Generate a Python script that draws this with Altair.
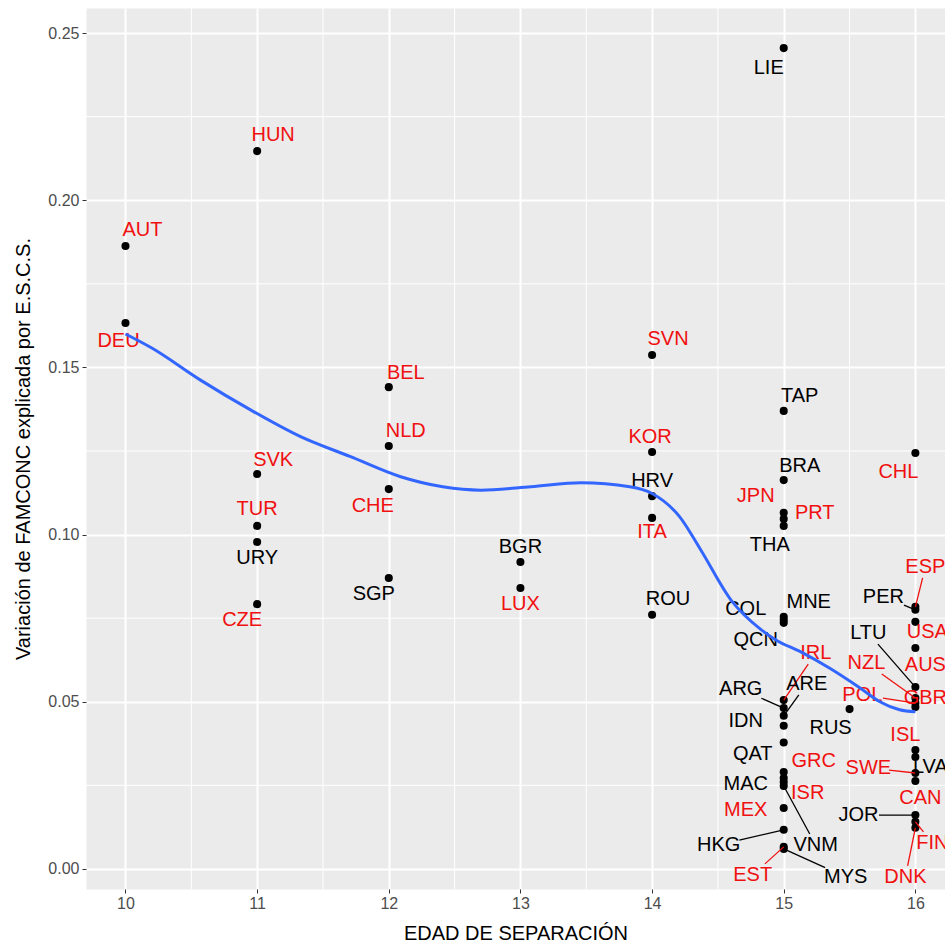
import altair as alt
import pandas as pd
import numpy as np

# ---------------- data ----------------
countries = ["AUT", "DEU", "HUN", "SVK", "TUR", "URY", "CZE", "BEL", "NLD", "CHE",
             "SGP", "BGR", "LUX", "SVN", "KOR", "HRV", "ITA", "ROU", "LIE", "TAP",
             "BRA", "JPN", "PRT", "THA", "MNE", "COL", "QCN", "IRL", "ARG", "ARE",
             "IDN", "RUS", "QAT", "GRC", "MAC", "ISR", "VNM", "MEX", "HKG", "EST",
             "MYS", "CHL", "ESP", "PER", "USA", "AUS", "LTU", "NZL", "POL", "GBR",
             "ISL", "LVA", "SWE", "CAN", "JOR", "FIN", "DNK"]
edad = [10, 10, 11, 11, 11, 11, 11, 12, 12, 12,
        12, 13, 13, 14, 14, 14, 14, 14, 15, 15,
        15, 15, 15, 15, 15, 15, 15, 15, 15, 15,
        15, 15.5, 15, 15, 15, 15, 15, 15, 15, 15,
        15, 16, 16, 16, 16, 16, 16, 16, 16, 16,
        16, 16, 16, 16, 16, 16, 16]
famconc = [0.1863, 0.1633, 0.2147, 0.1181, 0.1026, 0.0978, 0.0792, 0.1441, 0.1265, 0.1136,
           0.0870, 0.0918, 0.0840, 0.1537, 0.1247, 0.1115, 0.1050, 0.0760, 0.2455, 0.1370,
           0.1163, 0.1065, 0.1047, 0.1026, 0.0754, 0.0745, 0.0736, 0.0505, 0.0481, 0.0458,
           0.0428, 0.0478, 0.0378, 0.0290, 0.0272, 0.0260, 0.0248, 0.0182, 0.0117, 0.0066,
           0.0060, 0.1244, 0.0784, 0.0775, 0.0739, 0.0661, 0.0544, 0.0511, 0.0496, 0.0484,
           0.0356, 0.0335, 0.0287, 0.0263, 0.0161, 0.0141, 0.0123]
oecd = [True, True, True, True, True, False, True, True, True, True,
        False, False, True, True, True, False, True, False, False, False,
        False, True, True, False, False, False, False, True, False, False,
        False, False, False, True, False, True, False, True, False, True,
        False, True, True, False, True, True, False, True, True, True,
        True, False, True, True, False, True, True]

# loess curve
smooth_x = [10.0, 10.2, 10.57, 10.95, 11.33, 11.71, 12.09, 12.41, 12.70, 13.08,
            13.46, 13.83, 14.0, 14.21, 14.37, 14.6, 14.83, 14.94, 15.13, 15.35,
            15.58, 15.73, 15.88, 16.0]
smooth_y = [0.160, 0.1558, 0.1462, 0.1373, 0.1293, 0.1233, 0.1173, 0.1143, 0.1133, 0.1143,
            0.1155, 0.1143, 0.1123, 0.1053, 0.0954, 0.0804, 0.0715, 0.0685, 0.0649, 0.0600,
            0.0541, 0.0500, 0.0476, 0.0470]

x_ticks = [10, 11, 12, 13, 14, 15, 16]
y_ticks = [0.0, 0.05, 0.10, 0.15, 0.20, 0.25]
x_minor = [10.5, 11.5, 12.5, 13.5, 14.5, 15.5]
y_minor = [0.025, 0.075, 0.125, 0.175, 0.225]

# ---------------- layout (label offsets in px, like ggrepel) ----------------
label_dx = [17, -7, 16, 16, 0, 0, -15, 17, 17, -16,
            -15, 0, 0, 16, -2, 0, 0, 16, -15, 16,
            16, -28, 31, -14, 25, -38, -28, 32, -43, 23,
            -38, -19, -31, 30, -38, 24, 32, -38, -65, -31,
            62, -17, 10, -32, 12, 10, -47, -49, -53, 10,
            -10, 15, -47, 5, -57, 17, -10]
label_dy = [-16, 18, -16, -14, -17, 16, 16, -14, -15, 17,
            16, -15, 16, -16, -15, -15, 14, -16, 20, -15,
            -14, -17, -6, 19, -15, -11, 17, -47, -19, -32,
            -5, 19, 11, -11, 6, 11, 59, 2, 15, 28,
            28, 19, -40, -13, 10, 17, -54, -35, -8, -9,
            -15, 10, -5, 17, 0, 21, 49]
seg_names = ["IRL", "ARG", "ARE", "HKG", "VNM", "MYS", "EST", "ESP", "PER",
             "LTU", "NZL", "POL", "SWE", "LVA", "JOR", "DNK", "FIN"]

W, H = 859, 881
XMIN, XMAX = 9.7, 16.225
YMIN, YMAX = -0.006, 0.2575
PX_X = W / (XMAX - XMIN)
PX_Y = H / (YMAX - YMIN)
FS = 20

df = pd.DataFrame({"pais": countries, "edad": edad, "famconc": famconc, "oecd": oecd})
df["lx"] = [x + dx / PX_X for x, dx in zip(edad, label_dx)]
df["ly"] = [y - dy / PX_Y for y, dy in zip(famconc, label_dy)]

seg_rows = []
for i, name in enumerate(countries):
    if name not in seg_names:
        continue
    px = (edad[i] - XMIN) * PX_X
    py = (YMAX - famconc[i]) * PX_Y
    lpx, lpy = px + label_dx[i], py + label_dy[i]
    vx, vy = px - lpx, py - lpy
    hw = 0.62 * FS * len(name) / 2 + 2
    hh = 11
    t = min(hw / abs(vx) if vx else np.inf, hh / abs(vy) if vy else np.inf)
    if t >= 1:
        continue
    ex, ey = lpx + vx * t, lpy + vy * t
    seg_rows.append({"edad": edad[i], "famconc": famconc[i],
                     "sx2": XMIN + ex / PX_X, "sy2": YMAX - ey / PX_Y, "oecd": oecd[i]})
seg_df = pd.DataFrame(seg_rows)

smooth_df = pd.DataFrame({"edad": smooth_x, "famconc": smooth_y})

# ---------------- scales & axes ----------------
FONT = "Liberation Sans"
xscale = alt.Scale(domain=[XMIN, XMAX], nice=False, zero=False)
yscale = alt.Scale(domain=[YMIN, YMAX], nice=False, zero=False)
xaxis = alt.Axis(values=x_ticks, format="d", title="EDAD DE SEPARACIÓN",
                 grid=True, gridColor="white", gridWidth=2, domain=False,
                 tickColor="#333333", tickSize=4, tickWidth=1,
                 labelColor="#4D4D4D", labelFontSize=16, labelFont=FONT, labelPadding=2,
                 labelFlush=False,
                 titleFont=FONT, titleFontSize=20, titleFontWeight="normal",
                 titleColor="black", titlePadding=12)
yaxis = alt.Axis(values=y_ticks, format=".2f",
                 title="Variación de FAMCONC explicada por E.S.C.S.",
                 grid=True, gridColor="white", gridWidth=2, domain=False,
                 tickColor="#333333", tickSize=4, tickWidth=1,
                 labelColor="#4D4D4D", labelFontSize=16, labelFont=FONT, labelPadding=3,
                 labelFlush=False,
                 titleFont=FONT, titleFontSize=20, titleFontWeight="normal",
                 titleColor="black", titlePadding=14)


def X(f):
    return alt.X(f, type="quantitative", scale=xscale, axis=xaxis)


def Y(f):
    return alt.Y(f, type="quantitative", scale=yscale, axis=yaxis)


color = alt.Color("oecd:N", scale=alt.Scale(domain=[True, False], range=["#F01010", "black"]),
                  legend=None)

minor_x = alt.Chart(pd.DataFrame({"edad": x_minor})).mark_rule(
    color="white", strokeWidth=1).encode(x=X("edad"))
minor_y = alt.Chart(pd.DataFrame({"famconc": y_minor})).mark_rule(
    color="white", strokeWidth=1).encode(y=Y("famconc"))

points = alt.Chart(df).mark_circle(size=65, color="black", opacity=1).encode(
    x=X("edad"), y=Y("famconc"))

segs = alt.Chart(seg_df).mark_rule(strokeWidth=1.3, clip=True).encode(
    x=X("edad"), y=Y("famconc"), x2=alt.X2("sx2"), y2=alt.Y2("sy2"), color=color)

labels = alt.Chart(df).mark_text(font=FONT, fontSize=FS, baseline="middle",
                                 align="center", clip=True).encode(
    x=X("lx"), y=Y("ly"), text="pais:N", color=color)

smooth = alt.Chart(smooth_df).mark_line(color="#3366FF", strokeWidth=3,
                                        interpolate="monotone").encode(
    x=X("edad"), y=Y("famconc"))

chart = alt.layer(minor_x, minor_y, points, segs, labels, smooth).properties(
    width=W, height=H,
    padding={"left": 86, "top": 8, "right": 0, "bottom": 58},
    autosize=alt.AutoSizeParams(type="none"),
    background="white",
).configure_view(fill="#EBEBEB", stroke="transparent")

chart.save("out.html", embed_options={"renderer": "svg", "actions": False})
